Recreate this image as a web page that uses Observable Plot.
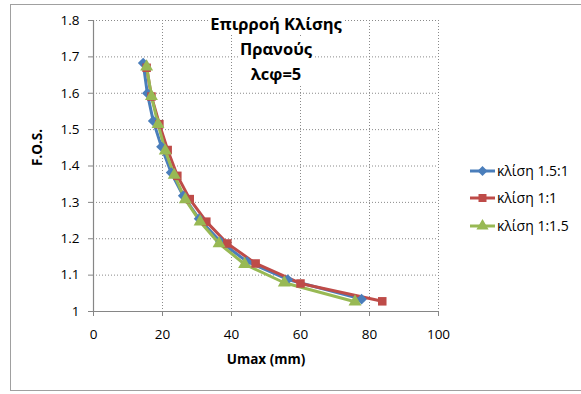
<!DOCTYPE html>
<html>
<head>
<meta charset="utf-8">
<script src="https://cdn.jsdelivr.net/npm/d3@7"></script>
<script src="https://cdn.jsdelivr.net/npm/@observablehq/plot@0.6"></script>
<style>
  html, body { margin: 0; padding: 0; background: #fff; }
  #wrap { position: relative; width: 581px; height: 394px; overflow: hidden; font-family: "Open Sans", sans-serif; }
  #frame { position: absolute; left: 10px; top: 4px; width: 580px; height: 387px; border: 1px solid #a0a0a0; box-sizing: border-box; }
  #chart { position: absolute; left: 0; top: 0; }
  #title { position: absolute; left: 176px; top: 11px; width: 200px; text-align: center; font-weight: bold; font-size: 16.5px; line-height: 25px; }
  #title span { background: #fff; padding: 0 2px; }
</style>
</head>
<body>
<div id="wrap">
  <div id="frame"></div>
  <div id="chart"></div>
  <div id="title"></div>
</div>
<script>
const titleLines = ["Επιρροή Κλίσης", "Πρανούς", "λcφ=5"];
const xLabel = "Umax (mm)";
const yLabel = "F.O.S.";
const xTicks = [0, 20, 40, 60, 80, 100];
const yTicks = [1, 1.1, 1.2, 1.3, 1.4, 1.5, 1.6, 1.7, 1.8];
const seriesNames = ["κλίση 1.5:1", "κλίση 1:1", "κλίση 1:1.5"];
const seriesColors = ["#4A7EBB", "#BE4B48", "#98B954"];
const seriesSymbols = ["diamond2", "square", "triangle"];

const umax_15_1 = [14.4, 15.6, 17.3, 19.7, 22.5, 26.0, 30.6, 36.8, 44.5, 56.3, 77.7];
const fos_15_1  = [1.683, 1.600, 1.524, 1.453, 1.382, 1.318, 1.255, 1.192, 1.137, 1.088, 1.034];
const umax_1_1  = [15.4, 16.8, 19.1, 21.5, 24.3, 27.9, 32.7, 38.8, 47.0, 60.0, 83.7];
const fos_1_1   = [1.670, 1.591, 1.515, 1.444, 1.373, 1.309, 1.247, 1.187, 1.132, 1.077, 1.028];
const umax_1_15 = [15.4, 16.8, 18.7, 20.8, 23.4, 26.6, 30.9, 36.4, 43.8, 55.3, 75.8];
const fos_1_15  = [1.673, 1.592, 1.515, 1.442, 1.375, 1.308, 1.247, 1.187, 1.130, 1.079, 1.027];

const seriesX = [umax_15_1, umax_1_1, umax_1_15];
const seriesY = [fos_15_1, fos_1_1, fos_1_15];
const data = seriesNames.flatMap((s, i) => seriesX[i].map((x, j) => ({series: s, x, y: seriesY[i][j]})));

const grid = {stroke: "#8a8a8a", strokeOpacity: 1, strokeDasharray: "1,2", strokeWidth: 1};

const chart = Plot.plot({
  width: 581, height: 394,
  marginLeft: 93, marginRight: 143, marginTop: 20, marginBottom: 83,
  style: {fontFamily: "Open Sans, sans-serif", fontSize: "13.5px", color: "#000", background: "transparent", overflow: "visible"},
  x: {domain: [0, 100]},
  y: {domain: [1, 1.8]},
  color: {domain: seriesNames, range: seriesColors},
  symbol: {domain: seriesNames, range: seriesSymbols},
  marks: [
    Plot.gridX(xTicks.filter(d => d > 0), grid),
    Plot.gridY(yTicks.filter(d => d > 1), grid),
    Plot.axisX({ticks: xTicks, tickSize: 5, tickPadding: 13, stroke: "#868686", label: null, tickFormat: d => String(d)}),
    Plot.axisY({ticks: yTicks, tickSize: 5, tickPadding: 9, stroke: "#868686", label: null, tickFormat: d => String(d)}),
    Plot.ruleX([0], {stroke: "#868686", strokeWidth: 1.2}),
    Plot.ruleY([1], {stroke: "#868686", strokeWidth: 1.2}),
    Plot.line(data, {x: "x", y: "y", z: "series", stroke: "series", strokeWidth: 3}),
    Plot.dot(data, {x: "x", y: "y", symbol: "series", fill: "series", stroke: null, r: 4.8}),
    Plot.text([xLabel], {frameAnchor: "bottom", dy: 52, fontWeight: "bold", fontSize: 13.5}),
    Plot.text([yLabel], {frameAnchor: "left", dx: -56, rotate: -90, fontWeight: "bold", fontSize: 13.5})
  ]
});
document.getElementById("chart").appendChild(chart);

document.getElementById("title").innerHTML = titleLines.map(t => `<span>${t}</span>`).join("<br>");

// legend
const svg = d3.select(chart);
const leg = svg.append("g").attr("font-family", "Open Sans, sans-serif").attr("font-size", 14).attr("text-anchor", "start");
const legendY = [171, 198, 226];
const symMap = {diamond2: d3.symbolDiamond2, square: d3.symbolSquare, triangle: d3.symbolTriangle};
seriesNames.forEach((s, i) => {
  const g = leg.append("g").attr("transform", `translate(470,${legendY[i]})`);
  g.append("line").attr("x1", 0).attr("x2", 25).attr("stroke", seriesColors[i]).attr("stroke-width", 3);
  g.append("path").attr("transform", "translate(12.5,0)")
    .attr("d", d3.symbol(symMap[seriesSymbols[i]], 64)())
    .attr("fill", seriesColors[i]);
  g.append("text").attr("x", 27).attr("dy", "0.35em").attr("text-anchor", "start").attr("fill", "#000").text(s);
});
</script>
</body>
</html>
